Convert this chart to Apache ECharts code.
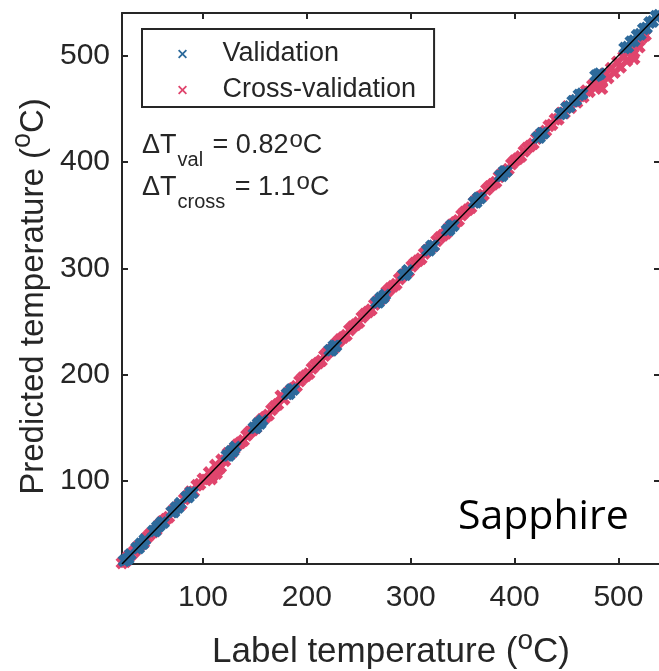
<!DOCTYPE html>
<html>
<head>
<meta charset="utf-8">
<title>Sapphire</title>
<script src="https://cdn.jsdelivr.net/npm/echarts@6/dist/echarts.min.js"></script>
<style>
  html, body { margin: 0; padding: 0; background: #fff; }
  #chart { width: 659px; height: 671px; }
</style>
</head>
<body>
<div id="chart"></div>
<script>
// axis range and ticks (°C)
const axisRange = [22, 540];
const tickValues = [100, 200, 300, 400, 500];

// [label temperature, predicted temperature] in °C
const crossValidation = [
  [22, 23], [25, 24], [28, 29], [31, 31], [34, 34], [37, 38], [40, 40], [43, 42], [46, 47], [49, 50],
  [52, 52], [55, 54], [58, 59], [61, 62], [64, 64], [67, 66], [70, 71], [73, 74], [76, 76], [79, 78],
  [82, 83], [85, 86], [88, 90], [91, 90], [94, 96], [97, 97], [100, 102], [103, 101], [106, 108], [108, 102],
  [109, 105], [112, 115], [113, 107], [115, 111], [117, 113], [118, 120], [121, 119], [124, 126], [127, 126], [130, 130],
  [133, 134], [136, 136], [139, 138], [142, 143], [145, 146], [148, 148], [151, 150], [154, 155], [157, 158], [160, 160],
  [163, 162], [166, 167], [169, 170], [172, 172], [175, 180], [178, 177], [181, 182], [184, 185], [187, 187], [190, 189],
  [193, 194], [196, 197], [199, 199], [202, 201], [205, 206], [208, 209], [211, 211], [214, 213], [217, 218], [220, 221],
  [223, 223], [226, 225], [229, 230], [232, 233], [235, 235], [238, 237], [241, 242], [244, 245], [247, 247], [250, 249],
  [253, 254], [256, 257], [259, 259], [262, 261], [265, 266], [268, 269], [271, 271], [274, 273], [277, 278], [280, 281],
  [283, 283], [286, 285], [289, 290], [292, 293], [295, 295], [298, 297], [301, 302], [304, 305], [307, 307], [310, 309],
  [313, 314], [316, 317], [319, 319], [322, 321], [325, 326], [328, 329], [331, 331], [334, 333], [337, 338], [340, 341],
  [343, 343], [346, 345], [349, 350], [352, 353], [355, 355], [358, 357], [361, 362], [364, 365], [367, 367], [370, 369],
  [373, 374], [376, 377], [379, 379], [382, 381], [385, 386], [388, 389], [391, 391], [394, 393], [397, 398], [400, 401],
  [403, 403], [406, 405], [409, 410], [412, 413], [415, 415], [418, 417], [421, 422], [424, 425], [427, 427], [430, 429],
  [433, 434], [436, 435], [439, 440], [442, 440], [445, 446], [448, 446], [451, 452], [454, 451], [457, 457], [460, 456],
  [463, 462], [466, 461], [469, 467], [472, 466], [475, 472], [478, 470], [481, 477], [484, 469], [484, 476], [487, 483],
  [490, 479], [493, 488], [496, 484], [499, 494], [502, 489], [505, 499], [508, 495], [511, 505], [514, 501], [515, 497],
  [517, 511], [520, 508], [523, 517], [526, 519]
];

const validation = [
  [22, 21], [24, 25], [26, 26], [28, 27], [30, 31],
  [36, 37], [38, 37], [40, 41], [42, 41], [44, 45],
  [52, 53], [54, 53], [56, 57], [58, 58], [60, 61], [62, 61],
  [70, 71], [72, 71], [74, 75], [76, 75], [78, 79],
  [84, 85], [86, 85], [88, 89], [90, 89],
  [123, 124], [125, 124], [127, 128], [129, 128], [131, 132],
  [149, 150], [151, 150], [153, 154], [155, 154], [157, 157],
  [181, 182], [183, 182], [185, 186], [187, 186],
  [222, 223], [224, 223], [226, 227], [228, 227],
  [267, 268], [269, 268], [271, 272], [273, 272], [275, 275],
  [293, 294], [295, 294], [297, 298],
  [316, 317], [318, 317], [320, 321], [322, 321],
  [335, 336], [337, 336], [339, 340], [341, 340],
  [361, 362], [363, 362], [365, 366], [367, 366],
  [386, 387], [388, 387], [390, 391], [392, 391],
  [422, 423], [424, 423], [426, 427], [428, 427],
  [444, 445], [447, 446], [450, 451], [453, 452], [456, 457], [459, 458], [462, 463], [465, 464],
  [478, 481], [480, 482], [482, 483],
  [506, 507], [509, 508], [512, 513], [515, 514], [518, 519], [521, 520], [524, 525], [527, 526],
  [530, 531], [533, 532], [536, 537], [539, 538]
];

// y = x reference line
const identityLine = [[22, 22], [540, 540]];

const FONT = "'Liberation Sans', Arial, Helvetica, sans-serif";
const TEXT = "#262626";
const BLUE = "#2d6a9b";
const PINK = "#e0456d";
// "x" markers drawn as filled outlines (thick for data, thin for the legend)
const xMark = "path://M0,2.6 L2.6,0 L5,2.4 L7.4,0 L10,2.6 L7.6,5 L10,7.4 L7.4,10 L5,7.6 L2.6,10 L0,7.4 L2.4,5 Z";
const xMarkThin = "path://M0,1.4 L1.4,0 L5,3.6 L8.6,0 L10,1.4 L6.4,5 L10,8.6 L8.6,10 L5,6.4 L1.4,10 L0,8.6 L3.6,5 Z";

// tokens are centred on the line; padding shifts the small "o" up and the subscript down
function nameRich(size, supSize, supLift) {
  return {
    m: { fontFamily: FONT, fontSize: size, lineHeight: size + 4, color: TEXT },
    p: { fontFamily: FONT, fontSize: supSize, lineHeight: 16, color: TEXT, padding: [0, 0, supLift, 0] },
  };
}

const noteRich = {
  m: { fontFamily: FONT, fontSize: 27, lineHeight: 30, fill: TEXT },
  s: { fontFamily: FONT, fontSize: 20, lineHeight: 20, fill: TEXT, padding: [29, 2, 0, 1] },
  p: { fontFamily: FONT, fontSize: 24, lineHeight: 16, fill: TEXT, padding: [0, 0, 12, 1] },
};

function baseAxis(extra) {
  return Object.assign({
    type: "value",
    min: axisRange[0],
    max: axisRange[1],
    splitLine: { show: false },
    axisLine: { show: true, onZero: false, lineStyle: { color: TEXT, width: 2 } },
    axisTick: {
      show: true,
      inside: true,
      length: 6,
      customValues: tickValues,
      lineStyle: { color: TEXT, width: 2 },
    },
    axisLabel: { show: false },
  }, extra);
}

const chart = echarts.init(document.getElementById("chart"), null, { renderer: "canvas" });

const option = {
  animation: false,
  backgroundColor: "#fff",
  grid: { left: 122, top: 13, right: -1, bottom: 107, outerBoundsMode: "none" },
  legend: {
    data: ["Validation", "Cross-validation"],
    orient: "vertical",
    left: 142,
    top: 29,
    icon: xMarkThin,
    itemWidth: 70,
    itemHeight: 9,
    itemGap: 8,
    padding: [11, 18, 3, 36],
    borderColor: TEXT,
    borderWidth: 2,
    backgroundColor: "#fff",
    selectedMode: false,
    textStyle: { fontFamily: FONT, fontSize: 27, lineHeight: 28, color: TEXT },
  },
  xAxis: [
    baseAxis({
      position: "bottom",
      axisLabel: {
        show: true,
        customValues: tickValues,
        fontFamily: FONT,
        fontSize: 30,
        color: TEXT,
        margin: 19,
      },
      name: "{m|Label temperature (}{p|o}{m|C)}",
      nameLocation: "middle",
      nameGap: 69,
      nameMoveOverlap: false,
      nameTextStyle: { rich: nameRich(35, 28, 22) },
    }),
    baseAxis({ position: "top" }),
  ],
  yAxis: [
    baseAxis({
      position: "left",
      axisLabel: {
        show: true,
        customValues: tickValues,
        fontFamily: FONT,
        fontSize: 30,
        color: TEXT,
        margin: 12,
      },
      name: "{m|Predicted temperature (}{p|o}{m|C)}",
      nameLocation: "middle",
      nameGap: 70,
      nameMoveOverlap: false,
      nameTextStyle: { rich: nameRich(33, 27, 21), padding: [0, 16, 0, 0] },
    }),
    baseAxis({ position: "right" }),
  ],
  series: [
    {
      name: "Cross-validation",
      type: "scatter",
      data: crossValidation,
      symbol: xMark,
      symbolSize: 13,
      itemStyle: { color: PINK, opacity: 1 },
      silent: true,
      z: 2,
    },
    {
      name: "Validation",
      type: "scatter",
      data: validation,
      symbol: xMark,
      symbolSize: 13,
      itemStyle: { color: BLUE, opacity: 1 },
      silent: true,
      z: 3,
    },
    {
      name: "fit",
      type: "line",
      data: identityLine,
      symbol: "none",
      lineStyle: { color: "#000", width: 1.5 },
      silent: true,
      z: 4,
    },
  ],
  graphic: [
    {
      type: "text",
      x: 142,
      y: 131,
      style: {
        text: "{m|\u0394T}{s|val}{m| = 0.82}{p|o}{m|C}",
        rich: noteRich,
        verticalAlign: "top",
      },
      z: 10,
    },
    {
      type: "text",
      x: 142,
      y: 173,
      style: {
        text: "{m|\u0394T}{s|cross}{m| = 1.1}{p|o}{m|C}",
        rich: noteRich,
        verticalAlign: "top",
      },
      z: 10,
    },
    {
      type: "text",
      x: 458,
      y: 517,
      style: {
        text: "Sapphire",
        fontFamily: "'Open Sans', 'Noto Sans', sans-serif",
        fontSize: 41,
        fill: "#000",
        align: "left",
        verticalAlign: "middle",
      },
      z: 10,
    },
  ],
};

chart.setOption(option);
</script>
</body>
</html>
